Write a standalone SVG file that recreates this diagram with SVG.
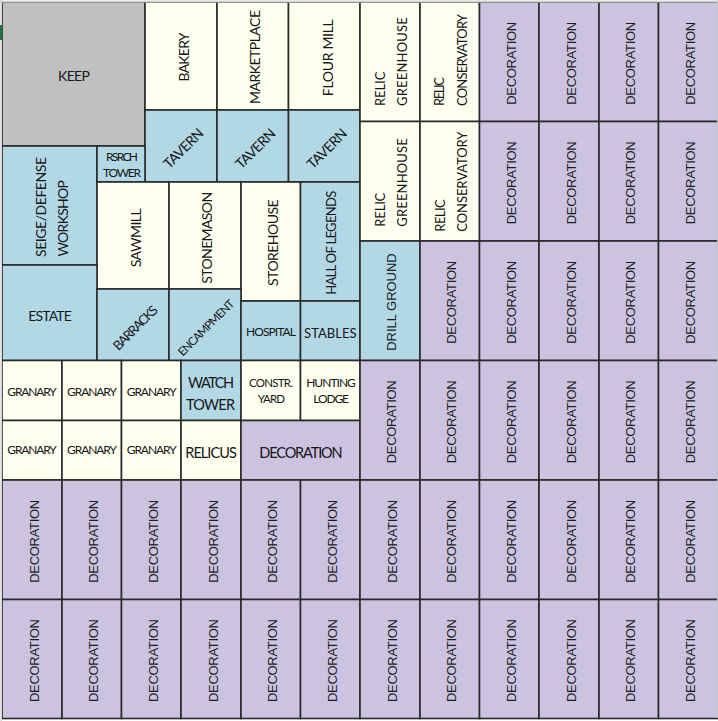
<svg xmlns="http://www.w3.org/2000/svg" width="718" height="721" viewBox="0 0 718 721">
<style>
.c{stroke:#2a2a2a;stroke-width:1.6}
.gr{fill:#C0C0C0}.cr{fill:#FFFFF0}.bl{fill:#B2D8E6}.pu{fill:#CCC3E1}
.d{font-family:"Liberation Sans",Arial,sans-serif;font-size:13px;fill:#1c1c1c;text-anchor:middle;dominant-baseline:central}
.k{font-family:Lato,"Open Sans",sans-serif;font-size:14px;fill:#161616;text-anchor:middle;dominant-baseline:central}
.s{font-size:12px}.m{font-size:13px}.b{font-size:14.5px}.x{font-size:11.5px}
</style>
<rect x="0" y="0" width="718" height="721" fill="#ffffff"/>
<g id="connectors"/>
<g id="keep"><rect class="c gr" x="2" y="2" width="143" height="144"/><text class="k" x="74" y="75.8" textLength="32">KEEP</text></g>
<g id="bakery"><rect class="c cr" x="145" y="2" width="72" height="108"/><text class="k" transform="translate(183 57) rotate(-90)" textLength="49">BAKERY</text></g>
<g id="marketplace"><rect class="c cr" x="217" y="2" width="71.5" height="108"/><text class="k" transform="translate(254 57) rotate(-90)" textLength="94">MARKETPLACE</text></g>
<g id="flour-mill"><rect class="c cr" x="288.5" y="2" width="71.5" height="108"/><text class="k" transform="translate(327 57.7) rotate(-90)" textLength="77">FLOUR MILL</text></g>
<g id="tavern-1"><rect class="c bl" x="145" y="110" width="72" height="72"/><text class="k" transform="translate(183 148) rotate(-45)" textLength="50">TAVERN</text></g>
<g id="tavern-2"><rect class="c bl" x="217" y="110" width="71.5" height="72"/><text class="k" transform="translate(255 148.3) rotate(-45)" textLength="50">TAVERN</text></g>
<g id="tavern-3"><rect class="c bl" x="288.5" y="110" width="71.5" height="72"/><text class="k" transform="translate(326.5 148.3) rotate(-45)" textLength="50">TAVERN</text></g>
<g id="siege-workshop"><rect class="c bl" x="2" y="146" width="95" height="119"/><text class="k" transform="translate(40 207) rotate(-90)" textLength="100">SEIGE/DEFENSE</text><text class="k" transform="translate(62.5 218.3) rotate(-90)" textLength="76.5">WORKSHOP</text></g>
<g id="rsrch-tower"><rect class="c bl" x="97" y="146" width="48" height="36"/><text class="k s" x="122" y="156" textLength="32">RSRCH</text><text class="k s" x="122" y="172" textLength="38">TOWER</text></g>
<g id="sawmill"><rect class="c cr" x="97" y="182" width="72" height="107"/><text class="k" transform="translate(135 237.8) rotate(-90)" textLength="59">SAWMILL</text></g>
<g id="stonemason"><rect class="c cr" x="169" y="182" width="72" height="107"/><text class="k" transform="translate(206.7 237.8) rotate(-90)" textLength="92">STONEMASON</text></g>
<g id="storehouse"><rect class="c cr" x="241" y="182" width="59.5" height="119"/><text class="k" transform="translate(272 242.7) rotate(-90)" textLength="86.5">STOREHOUSE</text></g>
<g id="hall-of-legends"><rect class="c bl" x="300.5" y="182" width="59.5" height="119"/><text class="k m" transform="translate(330.5 242.8) rotate(-90)" textLength="104">HALL OF LEGENDS</text></g>
<g id="estate"><rect class="c bl" x="2" y="265" width="95" height="95.5"/><text class="k" x="50" y="315" textLength="43.5">ESTATE</text></g>
<g id="barracks"><rect class="c bl" x="97" y="289" width="72" height="71.5"/><text class="k m" transform="translate(135 327.5) rotate(-45)" textLength="57">BARRACKS</text></g>
<g id="encampment"><rect class="c bl" x="169" y="289" width="72" height="71.5"/><text class="k x" transform="translate(205.8 327.5) rotate(-45)" textLength="74">ENCAMPMENT</text></g>
<g id="hospital"><rect class="c bl" x="241" y="301" width="59.5" height="59.5"/><text class="k s" x="271" y="331" textLength="50">HOSPITAL</text></g>
<g id="stables"><rect class="c bl" x="300.5" y="301" width="59.5" height="59.5"/><text class="k m" x="330.3" y="332.5" textLength="52.5">STABLES</text></g>
<g id="granary-1"><rect class="c cr" x="2" y="360.5" width="60" height="60"/><text class="k s" x="32" y="391" textLength="49.5">GRANARY</text></g>
<g id="granary-2"><rect class="c cr" x="62" y="360.5" width="59.5" height="60"/><text class="k s" x="92" y="391" textLength="50">GRANARY</text></g>
<g id="granary-3"><rect class="c cr" x="121.5" y="360.5" width="59.5" height="60"/><text class="k s" x="151.7" y="391" textLength="50">GRANARY</text></g>
<g id="watch-tower"><rect class="c bl" x="181" y="360.5" width="60" height="60"/><text class="k b" x="211" y="382" textLength="46">WATCH</text><text class="k b" x="210.5" y="404.5" textLength="49">TOWER</text></g>
<g id="constr-yard"><rect class="c cr" x="241" y="360.5" width="59.5" height="60"/><text class="k x" x="271" y="382.7" textLength="44">CONSTR.</text><text class="k x" x="271.3" y="398.7" textLength="27.3">YARD</text></g>
<g id="hunting-lodge"><rect class="c cr" x="300.5" y="360.5" width="59.5" height="60"/><text class="k s" x="331" y="382.8" textLength="49.7">HUNTING</text><text class="k s" x="331.2" y="398.7" textLength="35.7">LODGE</text></g>
<g id="granary-4"><rect class="c cr" x="2" y="420.5" width="60" height="59.5"/><text class="k s" x="32" y="449" textLength="49.5">GRANARY</text></g>
<g id="granary-5"><rect class="c cr" x="62" y="420.5" width="59.5" height="59.5"/><text class="k s" x="92" y="449" textLength="50">GRANARY</text></g>
<g id="granary-6"><rect class="c cr" x="121.5" y="420.5" width="59.5" height="59.5"/><text class="k s" x="151.7" y="449" textLength="50">GRANARY</text></g>
<g id="relicus"><rect class="c cr" x="181" y="420.5" width="60" height="59.5"/><text class="k b" x="211" y="452.5" textLength="51.5">RELICUS</text></g>
<g id="decoration-wide"><rect class="c pu" x="241" y="420.5" width="119" height="59.5"/><text class="k b" x="301" y="452" textLength="83.3">DECORATION</text></g>
<g id="relic-greenhouse-1"><rect class="c cr" x="360" y="2" width="60" height="119.5"/><text class="k m" transform="translate(380 88.8) rotate(-90)" textLength="34.3">RELIC</text><text class="k m" transform="translate(401.7 61.6) rotate(-90)" textLength="88.7">GREENHOUSE</text></g>
<g id="relic-greenhouse-2"><rect class="c cr" x="360" y="121.5" width="60" height="119.5"/><text class="k m" transform="translate(380 209.7) rotate(-90)" textLength="34">RELIC</text><text class="k m" transform="translate(401.7 182.5) rotate(-90)" textLength="88.4">GREENHOUSE</text></g>
<g id="relic-conservatory-1"><rect class="c cr" x="420" y="2" width="59.5" height="119.5"/><text class="k m" transform="translate(439 91.5) rotate(-90)" textLength="29">RELIC</text><text class="k m" transform="translate(461.7 60) rotate(-90)" textLength="92">CONSERVATORY</text></g>
<g id="relic-conservatory-2"><rect class="c cr" x="420" y="121.5" width="59.5" height="119.5"/><text class="k m" transform="translate(439.5 215.5) rotate(-90)" textLength="32.4">RELIC</text><text class="k m" transform="translate(461.7 181.7) rotate(-90)" textLength="100">CONSERVATORY</text></g>
<g id="drill-ground"><rect class="c bl" x="360" y="241" width="60" height="119.5"/><text class="d" transform="translate(391.7 302) rotate(-90)" textLength="97.5">DRILL GROUND</text></g>
<g id="decoration-r0c8"><rect class="c pu" x="479.5" y="2" width="59.5" height="119.5"/><text class="d" transform="translate(511.25 63.25) rotate(-90)" textLength="83">DECORATION</text></g>
<g id="decoration-r0c9"><rect class="c pu" x="539" y="2" width="60" height="119.5"/><text class="d" transform="translate(571 63.25) rotate(-90)" textLength="83">DECORATION</text></g>
<g id="decoration-r0c10"><rect class="c pu" x="599" y="2" width="59.5" height="119.5"/><text class="d" transform="translate(630.75 63.25) rotate(-90)" textLength="83">DECORATION</text></g>
<g id="decoration-r0c11"><rect class="c pu" x="658.5" y="2" width="59.5" height="119.5"/><text class="d" transform="translate(690.25 63.25) rotate(-90)" textLength="83">DECORATION</text></g>
<g id="decoration-r1c8"><rect class="c pu" x="479.5" y="121.5" width="59.5" height="119.5"/><text class="d" transform="translate(511.25 182.75) rotate(-90)" textLength="83">DECORATION</text></g>
<g id="decoration-r1c9"><rect class="c pu" x="539" y="121.5" width="60" height="119.5"/><text class="d" transform="translate(571 182.75) rotate(-90)" textLength="83">DECORATION</text></g>
<g id="decoration-r1c10"><rect class="c pu" x="599" y="121.5" width="59.5" height="119.5"/><text class="d" transform="translate(630.75 182.75) rotate(-90)" textLength="83">DECORATION</text></g>
<g id="decoration-r1c11"><rect class="c pu" x="658.5" y="121.5" width="59.5" height="119.5"/><text class="d" transform="translate(690.25 182.75) rotate(-90)" textLength="83">DECORATION</text></g>
<g id="decoration-r2c7"><rect class="c pu" x="420" y="241" width="59.5" height="119.5"/><text class="d" transform="translate(451.25 302.25) rotate(-90)" textLength="83">DECORATION</text></g>
<g id="decoration-r2c8"><rect class="c pu" x="479.5" y="241" width="59.5" height="119.5"/><text class="d" transform="translate(511.25 302.25) rotate(-90)" textLength="83">DECORATION</text></g>
<g id="decoration-r2c9"><rect class="c pu" x="539" y="241" width="60" height="119.5"/><text class="d" transform="translate(571 302.25) rotate(-90)" textLength="83">DECORATION</text></g>
<g id="decoration-r2c10"><rect class="c pu" x="599" y="241" width="59.5" height="119.5"/><text class="d" transform="translate(630.75 302.25) rotate(-90)" textLength="83">DECORATION</text></g>
<g id="decoration-r2c11"><rect class="c pu" x="658.5" y="241" width="59.5" height="119.5"/><text class="d" transform="translate(690.25 302.25) rotate(-90)" textLength="83">DECORATION</text></g>
<g id="decoration-r3c6"><rect class="c pu" x="360" y="360.5" width="60" height="119.5"/><text class="d" transform="translate(391.7 421.75) rotate(-90)" textLength="83">DECORATION</text></g>
<g id="decoration-r3c7"><rect class="c pu" x="420" y="360.5" width="59.5" height="119.5"/><text class="d" transform="translate(451.25 421.75) rotate(-90)" textLength="83">DECORATION</text></g>
<g id="decoration-r3c8"><rect class="c pu" x="479.5" y="360.5" width="59.5" height="119.5"/><text class="d" transform="translate(511.25 421.75) rotate(-90)" textLength="83">DECORATION</text></g>
<g id="decoration-r3c9"><rect class="c pu" x="539" y="360.5" width="60" height="119.5"/><text class="d" transform="translate(571 421.75) rotate(-90)" textLength="83">DECORATION</text></g>
<g id="decoration-r3c10"><rect class="c pu" x="599" y="360.5" width="59.5" height="119.5"/><text class="d" transform="translate(630.75 421.75) rotate(-90)" textLength="83">DECORATION</text></g>
<g id="decoration-r3c11"><rect class="c pu" x="658.5" y="360.5" width="59.5" height="119.5"/><text class="d" transform="translate(690.25 421.75) rotate(-90)" textLength="83">DECORATION</text></g>
<g id="decoration-r4c0"><rect class="c pu" x="2" y="480" width="60" height="119.5"/><text class="d" transform="translate(34 541.25) rotate(-90)" textLength="83">DECORATION</text></g>
<g id="decoration-r4c1"><rect class="c pu" x="62" y="480" width="59.5" height="119.5"/><text class="d" transform="translate(93.75 541.25) rotate(-90)" textLength="83">DECORATION</text></g>
<g id="decoration-r4c2"><rect class="c pu" x="121.5" y="480" width="59.5" height="119.5"/><text class="d" transform="translate(153.25 541.25) rotate(-90)" textLength="83">DECORATION</text></g>
<g id="decoration-r4c3"><rect class="c pu" x="181" y="480" width="60" height="119.5"/><text class="d" transform="translate(213 541.25) rotate(-90)" textLength="83">DECORATION</text></g>
<g id="decoration-r4c4"><rect class="c pu" x="241" y="480" width="59.5" height="119.5"/><text class="d" transform="translate(272.75 541.25) rotate(-90)" textLength="83">DECORATION</text></g>
<g id="decoration-r4c5"><rect class="c pu" x="300.5" y="480" width="59.5" height="119.5"/><text class="d" transform="translate(332.25 541.25) rotate(-90)" textLength="83">DECORATION</text></g>
<g id="decoration-r4c6"><rect class="c pu" x="360" y="480" width="60" height="119.5"/><text class="d" transform="translate(392 541.25) rotate(-90)" textLength="83">DECORATION</text></g>
<g id="decoration-r4c7"><rect class="c pu" x="420" y="480" width="59.5" height="119.5"/><text class="d" transform="translate(451.75 541.25) rotate(-90)" textLength="83">DECORATION</text></g>
<g id="decoration-r4c8"><rect class="c pu" x="479.5" y="480" width="59.5" height="119.5"/><text class="d" transform="translate(511.25 541.25) rotate(-90)" textLength="83">DECORATION</text></g>
<g id="decoration-r4c9"><rect class="c pu" x="539" y="480" width="60" height="119.5"/><text class="d" transform="translate(571 541.25) rotate(-90)" textLength="83">DECORATION</text></g>
<g id="decoration-r4c10"><rect class="c pu" x="599" y="480" width="59.5" height="119.5"/><text class="d" transform="translate(630.75 541.25) rotate(-90)" textLength="83">DECORATION</text></g>
<g id="decoration-r4c11"><rect class="c pu" x="658.5" y="480" width="59.5" height="119.5"/><text class="d" transform="translate(690.25 541.25) rotate(-90)" textLength="83">DECORATION</text></g>
<g id="decoration-r5c0"><rect class="c pu" x="2" y="599.5" width="60" height="119"/><text class="d" transform="translate(34 660.5) rotate(-90)" textLength="83">DECORATION</text></g>
<g id="decoration-r5c1"><rect class="c pu" x="62" y="599.5" width="59.5" height="119"/><text class="d" transform="translate(93.75 660.5) rotate(-90)" textLength="83">DECORATION</text></g>
<g id="decoration-r5c2"><rect class="c pu" x="121.5" y="599.5" width="59.5" height="119"/><text class="d" transform="translate(153.25 660.5) rotate(-90)" textLength="83">DECORATION</text></g>
<g id="decoration-r5c3"><rect class="c pu" x="181" y="599.5" width="60" height="119"/><text class="d" transform="translate(213 660.5) rotate(-90)" textLength="83">DECORATION</text></g>
<g id="decoration-r5c4"><rect class="c pu" x="241" y="599.5" width="59.5" height="119"/><text class="d" transform="translate(272.75 660.5) rotate(-90)" textLength="83">DECORATION</text></g>
<g id="decoration-r5c5"><rect class="c pu" x="300.5" y="599.5" width="59.5" height="119"/><text class="d" transform="translate(332.25 660.5) rotate(-90)" textLength="83">DECORATION</text></g>
<g id="decoration-r5c6"><rect class="c pu" x="360" y="599.5" width="60" height="119"/><text class="d" transform="translate(392 660.5) rotate(-90)" textLength="83">DECORATION</text></g>
<g id="decoration-r5c7"><rect class="c pu" x="420" y="599.5" width="59.5" height="119"/><text class="d" transform="translate(451.75 660.5) rotate(-90)" textLength="83">DECORATION</text></g>
<g id="decoration-r5c8"><rect class="c pu" x="479.5" y="599.5" width="59.5" height="119"/><text class="d" transform="translate(511.25 660.5) rotate(-90)" textLength="83">DECORATION</text></g>
<g id="decoration-r5c9"><rect class="c pu" x="539" y="599.5" width="60" height="119"/><text class="d" transform="translate(571 660.5) rotate(-90)" textLength="83">DECORATION</text></g>
<g id="decoration-r5c10"><rect class="c pu" x="599" y="599.5" width="59.5" height="119"/><text class="d" transform="translate(630.75 660.5) rotate(-90)" textLength="83">DECORATION</text></g>
<g id="decoration-r5c11"><rect class="c pu" x="658.5" y="599.5" width="59.5" height="119"/><text class="d" transform="translate(690.25 660.5) rotate(-90)" textLength="83">DECORATION</text></g>
<g id="sheet-edges">
<line x1="0" y1="1.5" x2="718" y2="1.5" stroke="#d4d4d4" stroke-width="2"/>
<line x1="1.2" y1="0" x2="1.2" y2="721" stroke="#d4d4d4" stroke-width="1.6"/>
<line x1="717.6" y1="0" x2="717.6" y2="718" stroke="#d4d4d4" stroke-width="1"/>
<rect x="0" y="25" width="2.2" height="15" fill="#217346"/>
</g>
</svg>
